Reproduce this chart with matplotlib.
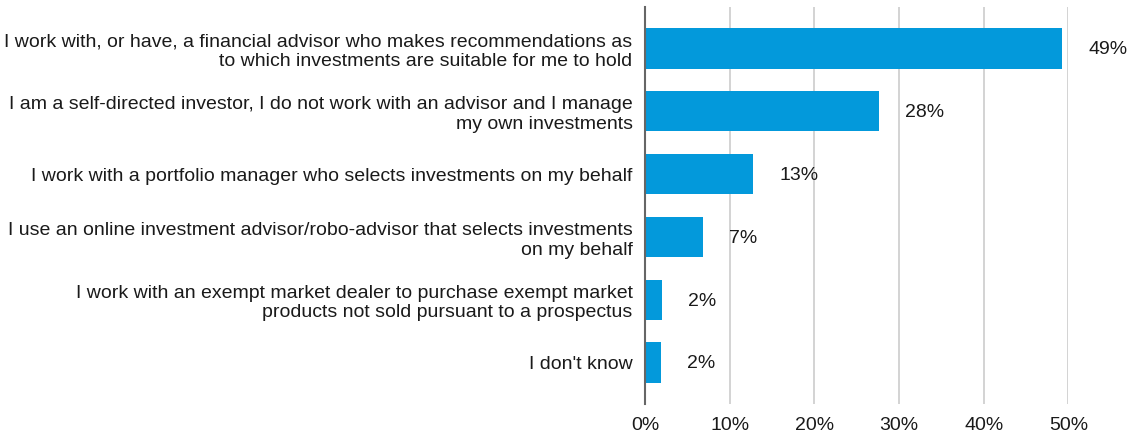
import matplotlib
matplotlib.use("Agg")
import matplotlib.pyplot as plt

categories = [
    "I work with, or have, a financial advisor who makes recommendations as\nto which investments are suitable for me to hold",
    "I am a self-directed investor, I do not work with an advisor and I manage\nmy own investments",
    "I work with a portfolio manager who selects investments on my behalf",
    "I use an online investment advisor/robo-advisor that selects investments\non my behalf",
    "I work with an exempt market dealer to purchase exempt market\nproducts not sold pursuant to a prospectus",
    "I don't know",
]
values = [49.3, 27.6, 12.8, 6.8, 2.0, 1.9]
value_labels = ["49%", "28%", "13%", "7%", "2%", "2%"]
xticks = [0, 10, 20, 30, 40, 50]
xticklabels = ["0%", "10%", "20%", "30%", "40%", "50%"]

plt.rcParams['font.family'] = ['Liberation Sans', 'DejaVu Sans']

fig = plt.figure(figsize=(11.33, 4.34), dpi=100)
ax = fig.add_axes([645/1133, 1-404/434, (1068.3-645)/1133, (404-7)/434])
ax.set_xlim(0, 50)
ax.set_ylim(5.66, -0.66)

color = "#0399db"
ypos = list(range(len(categories)))
ax.barh(ypos, values, height=0.64, color=color, zorder=3)

for y, v, lab in zip(ypos, values, value_labels):
    ax.annotate(lab, xy=(v, y), xytext=(19, -1), textcoords="offset points",
                va="center", ha="left", fontsize=14, color="#1a1a1a")

ax.set_yticks(ypos)
ax.set_yticklabels(categories, fontsize=14, color="#1a1a1a", linespacing=1.2, ha="right")
ax.tick_params(axis="y", length=0, pad=9)
ax.set_xticks(xticks)
ax.set_xticklabels(xticklabels, fontsize=14, color="#1a1a1a")
ax.tick_params(axis="x", length=0, pad=9)
ax.grid(axis="x", color="#cccccc", linewidth=1.2, zorder=0)
ax.set_axisbelow(True)
for s in ["top", "right", "bottom"]:
    ax.spines[s].set_visible(False)
ax.spines["left"].set_color("#666666")
ax.spines["left"].set_linewidth(1.5)
ax.spines["left"].set_zorder(5)

fig.savefig("out.png", dpi=100)
